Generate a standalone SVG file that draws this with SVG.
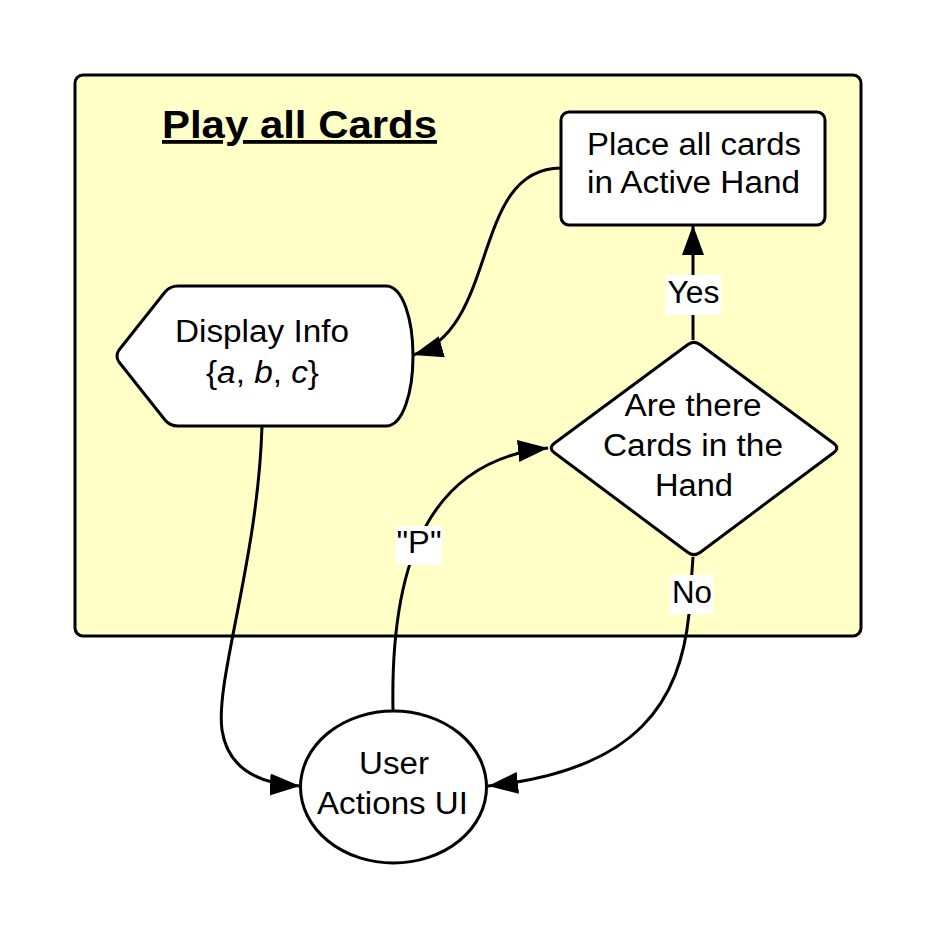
<svg xmlns="http://www.w3.org/2000/svg" width="938" height="938" viewBox="0 0 938 938">
<style>
text{font-family:"Liberation Sans",Arial,sans-serif;fill:#000;}
.t{font-size:31px;text-anchor:middle;}
.title{font-size:38px;font-weight:bold;text-anchor:middle;text-decoration:underline;}
.shape{fill:#fff;stroke:#000;stroke-width:3;stroke-linejoin:round;}
.conn{fill:none;stroke:#000;stroke-width:3;}
.lbl{fill:#fff;stroke:none;}
</style>
<defs>
<marker id="arr" markerUnits="userSpaceOnUse" markerWidth="32" markerHeight="24" refX="30" refY="11" orient="auto">
<path d="M0,0 L30,11 L0,22 Z" fill="#000"/>
</marker>
</defs>
<rect width="938" height="938" fill="#fff"/>
<g id="container">
<rect x="75" y="75" width="786" height="561" rx="8" fill="#ffffc8" stroke="#000" stroke-width="3"/>
<text class="title" x="299.5" y="138" textLength="275" lengthAdjust="spacingAndGlyphs">Play all Cards</text>
</g>
<g id="connectors">
<path class="conn" d="M561,168 C470,168 500,330 413,355" marker-end="url(#arr)"/>
<path class="conn" d="M262,426 C258,560 215,680 222,730 C228,770 260,784 300,786" marker-end="url(#arr)"/>
<path class="conn" d="M393,711 C390,560 430,460 548,448" marker-end="url(#arr)"/>
<path class="conn" d="M693,340 L693,225" marker-end="url(#arr)"/>
<path class="conn" d="M693,557 L689,614 C680,700 640,770 488,786" marker-end="url(#arr)"/>
<rect class="lbl" x="666" y="275" width="55" height="40"/>
<text class="t" x="693.5" y="303" textLength="52" lengthAdjust="spacingAndGlyphs">Yes</text>
<rect class="lbl" x="670" y="575" width="43" height="39"/>
<text class="t" x="692" y="603" textLength="40" lengthAdjust="spacingAndGlyphs">No</text>
<rect class="lbl" x="396" y="526" width="46" height="39"/>
<text class="t" x="419" y="553" textLength="45" lengthAdjust="spacingAndGlyphs">"P"</text>
</g>
<g id="place">
<rect class="shape" x="561" y="112" width="264" height="113" rx="8"/>
<text class="t" x="694" y="155" textLength="214" lengthAdjust="spacingAndGlyphs">Place all cards</text>
<text class="t" x="693.5" y="193" textLength="213" lengthAdjust="spacingAndGlyphs">in Active Hand</text>
</g>
<g id="display">
<path class="shape" d="M178,286 L386,286 C403,286 413,320 413,356 C413,392 403,426 386,426 L178,426 Q170,426 165,420 L119,362 Q115,356 119,350 L165,292 Q170,286 178,286 Z"/>
<text class="t" x="262" y="342" textLength="174" lengthAdjust="spacingAndGlyphs">Display Info</text>
<text class="t" x="262.5" y="383" textLength="113" lengthAdjust="spacingAndGlyphs">{<tspan font-style="italic">a</tspan>, <tspan font-style="italic">b</tspan>, <tspan font-style="italic">c</tspan>}</text>
</g>
<g id="decision">
<path class="shape" d="M687.6,344.8 Q694,340 700.4,344.8 L833.6,443.2 Q840,448 833.6,452.8 L700.4,552.2 Q694,557 687.6,552.2 L554.4,452.8 Q548,448 554.4,443.2 Z"/>
<text class="t" x="693" y="416" textLength="137" lengthAdjust="spacingAndGlyphs">Are there</text>
<text class="t" x="693" y="456" textLength="180" lengthAdjust="spacingAndGlyphs">Cards in the</text>
<text class="t" x="694" y="496" textLength="78" lengthAdjust="spacingAndGlyphs">Hand</text>
</g>
<g id="user">
<ellipse class="shape" cx="393.5" cy="787" rx="93" ry="76"/>
<text class="t" x="394" y="774" textLength="70" lengthAdjust="spacingAndGlyphs">User</text>
<text class="t" x="392.5" y="814" textLength="151" lengthAdjust="spacingAndGlyphs">Actions UI</text>
</g>
</svg>
